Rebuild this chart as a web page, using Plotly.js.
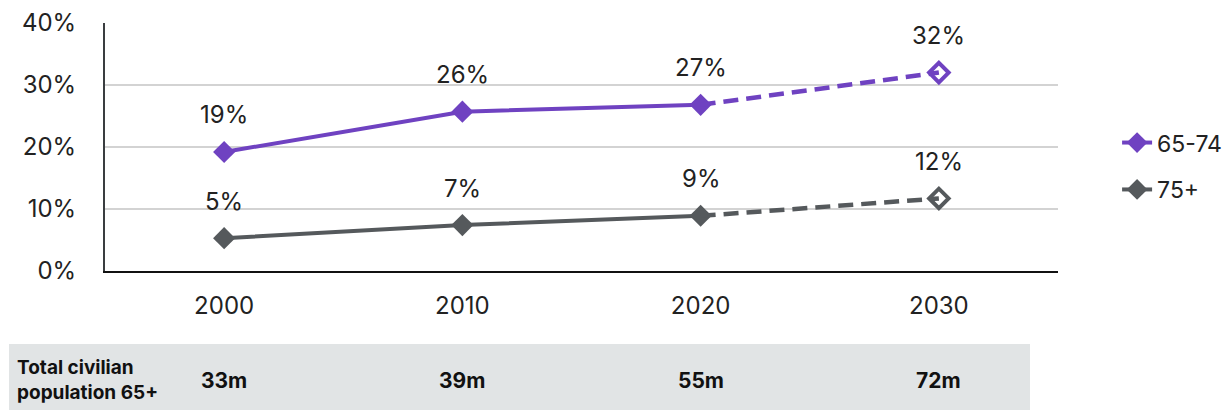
<!DOCTYPE html>
<html><head><meta charset="utf-8">
<script src="https://cdn.plot.ly/plotly-3.0.1.min.js"></script>
<style>html,body{margin:0;padding:0;background:#fff}#c{width:1230px;height:411px}</style>
</head><body><div id="c"></div>
<script>
const years = ['2000','2010','2020','2030'];
const age6574 = [19.2, 25.7, 26.8, 32.0];
const age75 = [5.3, 7.4, 8.9, 11.7];
const labels6574 = ['19%','26%','27%','32%'];
const labels75 = ['5%','7%','9%','12%'];
const popLabel = 'Total civilian<br>population 65+';
const popValues = ['33m','39m','55m','72m'];

const purple = '#6F42C1';
const grey = '#55595C';
const font = 'Inter, "Liberation Sans", Arial, sans-serif';

function seriesTraces(vals, color, name) {
  return [
    {x: years.slice(0,3), y: vals.slice(0,3), name: name, legendgroup:name, type:'scatter', mode:'lines+markers',
     line:{color:color, width:4}, marker:{symbol:'diamond', size:17, color:color}, showlegend:true},
    {x: years.slice(2), y: vals.slice(2), name: name, legendgroup:name, type:'scatter', mode:'lines',
     line:{color:color, width:4.5, dash:'15px,8px'}, showlegend:false},
    {x: years.slice(3), y: vals.slice(3), name: name, legendgroup:name, type:'scatter', mode:'markers',
     marker:{symbol:'diamond-open', size:15, color:color, line:{width:4, color:color}}, showlegend:false}
  ];
}

const data = [...seriesTraces(age6574, purple, '65-74'), ...seriesTraces(age75, grey, '75+')];

const annotations = [];
years.forEach((yr,i)=>{
  annotations.push({x:i, y:age6574[i], text:labels6574[i], showarrow:false, yshift:37, font:{size:24, color:'#222', family:font}});
  annotations.push({x:i, y:age75[i], text:labels75[i], showarrow:false, yshift:37, font:{size:24, color:'#222', family:font}});
  annotations.push({x:i, xref:'x', y:-0.44, yref:'paper', yanchor:'middle', text:'<b>'+popValues[i]+'</b>', showarrow:false, font:{size:21, color:'#111', family:font}});
});
annotations.push({x:-0.094, xref:'paper', xanchor:'left', y:-0.44, yref:'paper', yanchor:'middle', text:'<b>'+popLabel+'</b>', align:'left', showarrow:false, font:{size:19, color:'#111', family:font}});

const layout = {
  width:1230, height:411,
  margin:{l:105, r:172, t:23, b:140, autoexpand:false},
  paper_bgcolor:'#fff', plot_bgcolor:'#fff',
  font:{family:font, color:'#222', size:24},
  xaxis:{type:'category', range:[-0.5,3.5], showgrid:false, showline:true, linecolor:'#111', linewidth:2,
         ticks:'outside', ticklen:12, tickcolor:'rgba(0,0,0,0)', tickfont:{size:24, color:'#222'}, fixedrange:true, automargin:false},
  yaxis:{range:[0,40], dtick:10, ticksuffix:'%', showgrid:true, gridcolor:'#D3D3D3', gridwidth:1.5,
         showline:true, linecolor:'#3a3d40', linewidth:2, zeroline:false, automargin:false,
         ticks:'outside', ticklen:22, tickcolor:'rgba(0,0,0,0)', tickfont:{size:24, color:'#222'}},
  legend:{x:1.062, y:0.423, xanchor:'left', yanchor:'middle', font:{size:23, color:'#222'}, traceorder:'grouped', tracegroupgap:14, bgcolor:'rgba(0,0,0,0)'},
  shapes:[{type:'rect', xref:'paper', yref:'paper', x0:-0.1007, x1:0.9706, y0:-0.294, y1:-0.56, fillcolor:'#E1E4E5', line:{width:0}, layer:'below'}],
  annotations: annotations,
  showlegend:true
};
Plotly.newPlot('c', data, layout, {displayModeBar:false, staticPlot:true});
</script></body></html>
